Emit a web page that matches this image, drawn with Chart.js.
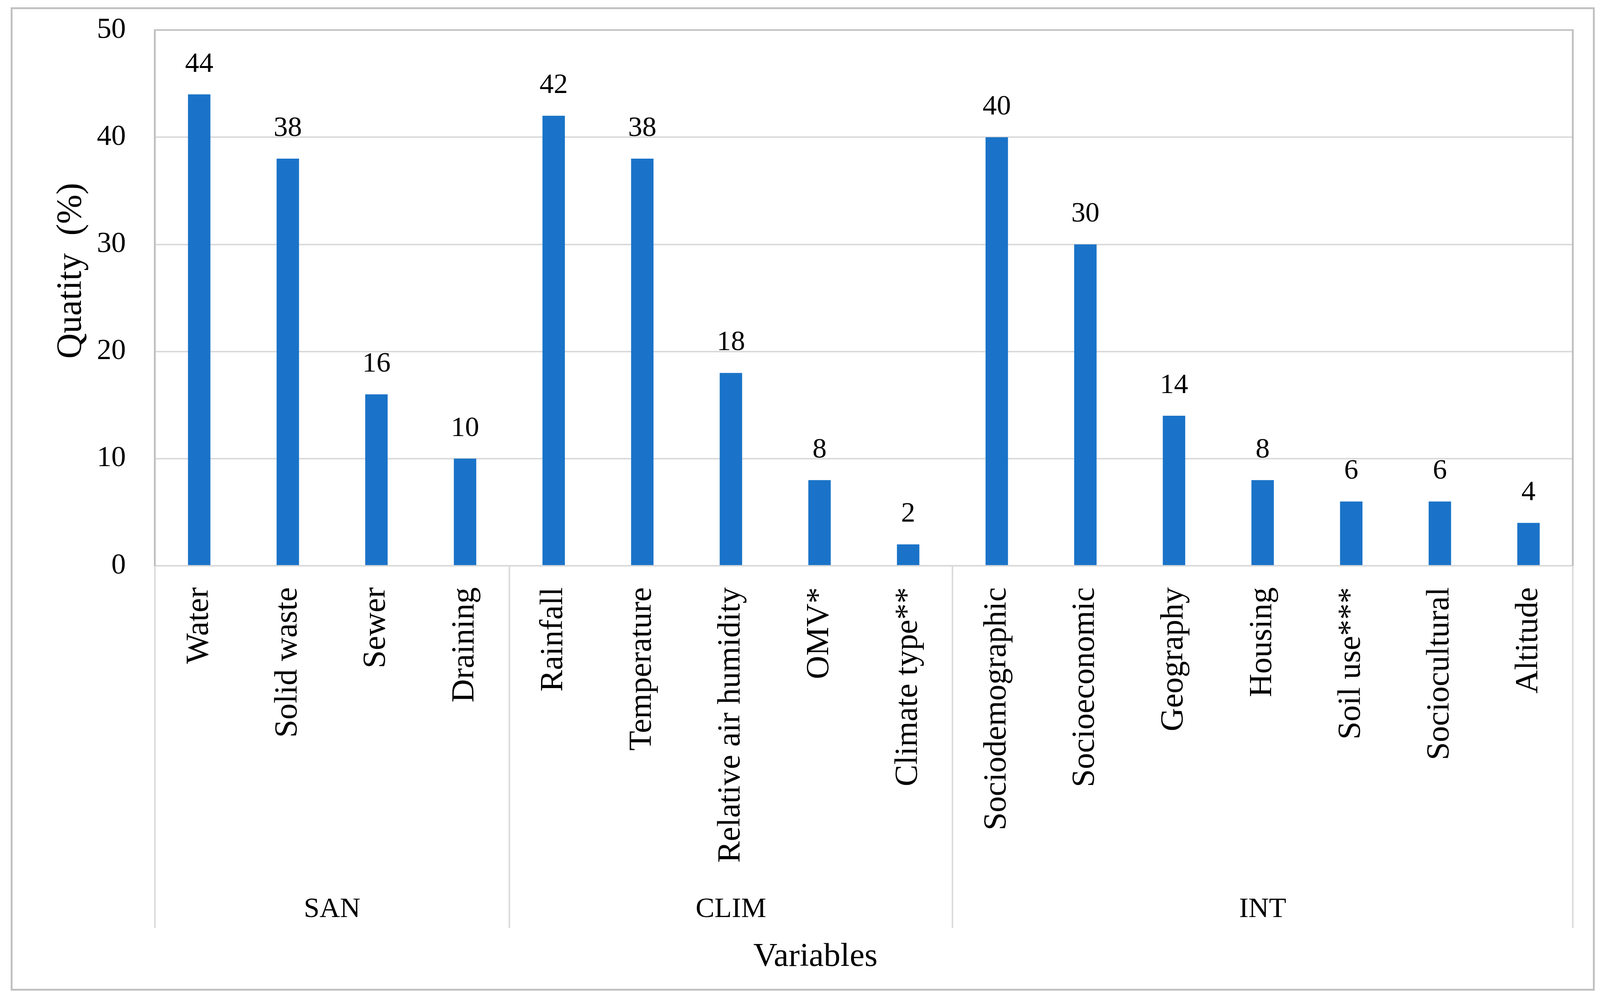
<!DOCTYPE html>
<html lang="en">
<head>
    <meta charset="UTF-8"/>
    <title>Variables</title>
    <style>
        html, body { margin: 0; padding: 0; background: #fff; overflow: hidden; }
        #grafico { display: block; }
    </style>
    <script src="https://cdn.jsdelivr.net/npm/chart.js"></script>
</head>
<body>
    <canvas id="grafico"></canvas>
    <script>
        // dados
        var categorias = ['Water', 'Solid waste', 'Sewer', 'Draining',
            'Rainfall', 'Temperature', 'Relative air humidity', 'OMV*', 'Climate type**',
            'Sociodemographic', 'Socioeconomic', 'Geography', 'Housing', 'Soil use***', 'Sociocultural', 'Altitude'];
        var valores = [44, 38, 16, 10, 42, 38, 18, 8, 2, 40, 30, 14, 8, 6, 6, 4];
        var grupos = ['SAN', 'CLIM', 'INT'];
        var tamanhoGrupos = [4, 5, 7];
        var marcasY = [0, 10, 20, 30, 40, 50];
        var tituloY = 'Quatity  (%)';
        var tituloX = 'Variables';

        var fonte = '"Liberation Serif", "Times New Roman", serif';

        // a figura original tem 4411 x 2567; tudo e medido nessa grade
        var W = window.innerWidth, H = window.innerHeight;
        function px(v) { return v * W / 4411; }
        function py(v) { return v * H / 2567; }
        function fs(v) { return v * W / 4411; }   // texto horizontal
        function fv(v) { return v * H / 2567; }   // texto girado

        var canvas = document.getElementById('grafico');
        canvas.style.width = W + 'px';
        canvas.style.height = H + 'px';
        canvas.width = W;
        canvas.height = H;

        var fundoPlugin = {
            id: 'fundo',
            beforeDraw: function(chart) {
                var ctx = chart.ctx;
                ctx.save();
                ctx.fillStyle = '#fff';
                ctx.fillRect(0, 0, chart.width, chart.height);
                ctx.strokeStyle = '#bfbfbf';
                ctx.lineWidth = fs(5);
                ctx.strokeRect(px(32), py(21), px(4362), py(2512));
                ctx.restore();
            }
        };

        var rotulosPlugin = {
            id: 'rotulos',
            afterDatasetsDraw: function(chart) {
                var ctx = chart.ctx;
                var meta = chart.getDatasetMeta(0);
                ctx.save();
                ctx.fillStyle = '#000';
                ctx.font = fs(78) + 'px ' + fonte;
                ctx.textAlign = 'center';
                ctx.textBaseline = 'alphabetic';
                meta.data.forEach(function(barra, i) {
                    ctx.fillText(String(valores[i]), barra.x, barra.y - py(58));
                });
                ctx.restore();
            }
        };

        var gruposPlugin = {
            id: 'grupos',
            afterDraw: function(chart) {
                var ctx = chart.ctx;
                var x = chart.scales.x;
                var area = chart.chartArea;
                var meio = (x.getPixelForValue(1) - x.getPixelForValue(0)) / 2;
                var linhas = [x.getPixelForValue(0) - meio];
                var inicio = 0;

                ctx.save();
                ctx.fillStyle = '#000';
                ctx.font = fs(78) + 'px ' + fonte;
                ctx.textAlign = 'center';
                ctx.textBaseline = 'alphabetic';
                for (var g = 0; g < grupos.length; g++) {
                    var fim = inicio + tamanhoGrupos[g];
                    var xIni = x.getPixelForValue(inicio) - meio;
                    var xFim = x.getPixelForValue(fim - 1) + meio;
                    linhas.push(xFim);
                    ctx.fillText(grupos[g], (xIni + xFim) / 2, py(2347));
                    inicio = fim;
                }

                ctx.strokeStyle = '#d9d9d9';
                ctx.lineWidth = fs(4);
                linhas.forEach(function(l) {
                    ctx.beginPath();
                    ctx.moveTo(l, area.bottom);
                    ctx.lineTo(l, py(2375));
                    ctx.stroke();
                });

                // borda direita da area do grafico
                ctx.strokeStyle = '#bfbfbf';
                ctx.lineWidth = fs(5);
                ctx.beginPath();
                ctx.moveTo(area.right, area.top - fs(2.5));
                ctx.lineTo(area.right, area.bottom);
                ctx.stroke();

                // titulos dos eixos
                ctx.font = fs(92) + 'px ' + fonte;
                ctx.fillText(tituloX, px(2248), py(2472));
                ctx.font = fv(90) + 'px ' + fonte;
                ctx.translate(px(197), py(693));
                ctx.rotate(-Math.PI / 2);
                ctx.textBaseline = 'middle';
                ctx.fillText(tituloY, 0, 0);
                ctx.restore();
            }
        };

        new Chart(canvas, {
            type: 'bar',
            data: {
                labels: categorias,
                datasets: [{
                    data: valores,
                    backgroundColor: '#1a73c8',
                    barPercentage: 0.253,
                    categoryPercentage: 1
                }]
            },
            options: {
                responsive: false,
                animation: false,
                layout: { padding: { left: 0, right: px(75), top: py(77), bottom: 0 } },
                plugins: {
                    legend: { display: false },
                    tooltip: { enabled: false }
                },
                scales: {
                    x: {
                        grid: { display: false, drawTicks: false },
                        border: { display: true, color: '#d9d9d9', width: fs(4) },
                        ticks: {
                            autoSkip: false,
                            maxRotation: 90,
                            minRotation: 90,
                            padding: py(55),
                            color: '#000',
                            font: { family: fonte, size: fv(83) }
                        },
                        afterFit: function(scale) {
                            scale.height = H - py(1448);
                            scale.paddingLeft = 0;
                            scale.paddingRight = 0;
                        }
                    },
                    y: {
                        min: 0,
                        max: 50,
                        afterBuildTicks: function(scale) {
                            scale.ticks = marcasY.map(function(v) { return { value: v }; });
                        },
                        ticks: {
                            padding: px(80),
                            color: '#000',
                            font: { family: fonte, size: fs(80) }
                        },
                        grid: {
                            drawTicks: false,
                            lineWidth: fs(4),
                            color: function(c) {
                                return c.tick && c.tick.value === 50 ? '#bfbfbf' : '#d9d9d9';
                            }
                        },
                        border: { color: '#bfbfbf', width: fs(5) },
                        afterFit: function(scale) {
                            scale.width = px(427);
                            scale.paddingTop = 0;
                            scale.paddingBottom = 0;
                        }
                    }
                }
            },
            plugins: [fundoPlugin, rotulosPlugin, gruposPlugin]
        });
    </script>
</body>
</html>
